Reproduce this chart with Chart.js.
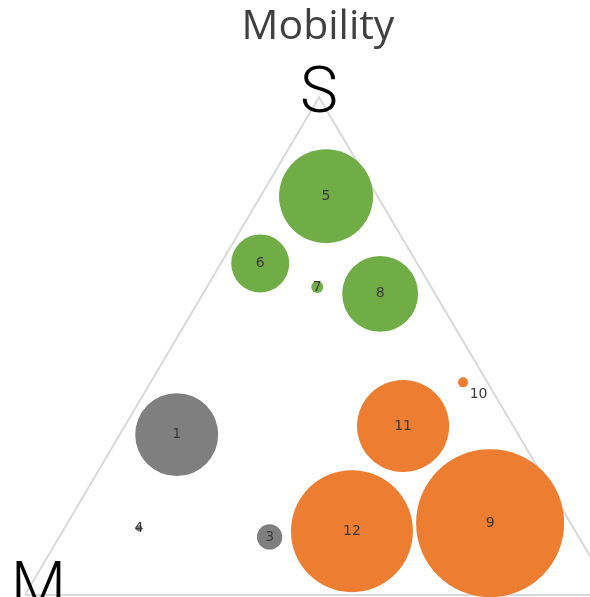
<!DOCTYPE html>
<html>
<head>
<meta charset="utf-8">
<script src="https://cdn.jsdelivr.net/npm/chart.js@4.4.1/dist/chart.umd.min.js"></script>
<style>
  html, body { margin: 0; padding: 0; background: #ffffff; }
  #wrap { width: 590px; height: 597px; }
</style>
</head>
<body>
<div id="wrap"><canvas id="c" width="590" height="597"></canvas></div>
<script>
// ---- data ----
const chartTitle = 'Mobility';
const vertexNames = ['M', 'S'];           // bottom-left, top
const triX = [0, 100, 50, 0];
const triY = [0, 0, 86.6, 0];

const grayLabels = ['1', '3', '4'];
const grayX = [25.8, 41.6, 19.4];
const grayY = [27.9, 10.1, 11.6];
const graySize = [17.2, 1.6, 0.1];

const greenLabels = ['5', '6', '7', '8'];
const greenX = [51.2, 40.0, 49.7, 60.4];
const greenY = [69.4, 57.7, 53.6, 52.4];
const greenSize = [22.1, 8.4, 0.36, 14.4];

const orangeLabels = ['9', '10', '11', '12'];
const orangeX = [79.1, 74.5, 64.3, 55.6];
const orangeY = [12.5, 37.0, 29.4, 11.1];
const orangeSize = [54.8, 0.25, 21.2, 37.2];

// ---- helpers ----
function pts(xs, ys, sizes, labels) {
  return xs.map((x, i) => ({ x: x, y: ys[i], s: sizes[i], label: labels[i] }));
}
const radiusOf = ctx => {
  const p = ctx.raw;
  return p ? 10 * Math.sqrt(p.s) : 0;
};
const labelOffsets = { '10': [15.5, 12] };

const labelPlugin = {
  id: 'labels',
  afterDatasetsDraw(chart) {
    const ctx = chart.ctx;
    const xs = chart.scales.x, ys = chart.scales.y;
    ctx.save();
    ctx.fillStyle = '#3a3a3a';
    ctx.font = '14px "DejaVu Sans"';
    ctx.textAlign = 'center';
    ctx.textBaseline = 'middle';
    chart.data.datasets.forEach((ds, di) => {
      if (ds.type !== 'bubble') return;
      const meta = chart.getDatasetMeta(di);
      meta.data.forEach((el, i) => {
        const lab = ds.data[i].label;
        const off = labelOffsets[lab] || [0, 0];
        ctx.fillText(lab, el.x + off[0], el.y + off[1]);
      });
    });
    // vertex names
    ctx.fillStyle = '#000000';
    ctx.font = '300 64px Roboto';
    ctx.textBaseline = 'alphabetic';
    ctx.fillText(vertexNames[1], xs.getPixelForValue(triX[2]), ys.getPixelForValue(triY[2]) + 15);
    ctx.fillText(vertexNames[0], xs.getPixelForValue(triX[0]) + 13.5, ys.getPixelForValue(triY[0]) + 12);
    ctx.restore();
  }
};

new Chart(document.getElementById('c'), {
  data: {
    datasets: [
      {
        type: 'bubble', label: 'gray', data: pts(grayX, grayY, graySize, grayLabels),
        backgroundColor: '#7f7f7f', borderWidth: 0, radius: radiusOf, order: 1, clip: false
      },
      {
        type: 'bubble', label: 'green', data: pts(greenX, greenY, greenSize, greenLabels),
        backgroundColor: '#70ad47', borderWidth: 0, radius: radiusOf, order: 1, clip: false
      },
      {
        type: 'bubble', label: 'orange', data: pts(orangeX, orangeY, orangeSize, orangeLabels),
        backgroundColor: '#ed7d31', borderWidth: 0, radius: radiusOf, order: 1, clip: false
      },
      {
        type: 'line', label: 'triangle',
        data: triX.map((x, i) => ({ x: x, y: triY[i] })),
        borderColor: '#d9d9d9', borderWidth: 2, backgroundColor: '#f2f2f2',
        fill: true, pointRadius: 0, tension: 0, order: 2, clip: false
      }
    ]
  },
  options: {
    responsive: false,
    animation: false,
    events: [],
    layout: { padding: { left: 46, right: 0, top: 0, bottom: 0 }, autoPadding: false },
    plugins: {
      legend: { display: false },
      tooltip: { enabled: false },
      title: {
        display: true, text: chartTitle, color: '#404040',
        font: { family: '"Open Sans"', size: 41, weight: 'normal', lineHeight: 1.2 },
        padding: { top: 3, bottom: 0 }
      }
    },
    scales: {
      x: { type: 'linear', display: false, min: 3.57, max: 96.09 },
      y: { type: 'linear', display: false, min: -0.35, max: 94.45 }
    }
  },
  plugins: [labelPlugin]
});
</script>
</body>
</html>
